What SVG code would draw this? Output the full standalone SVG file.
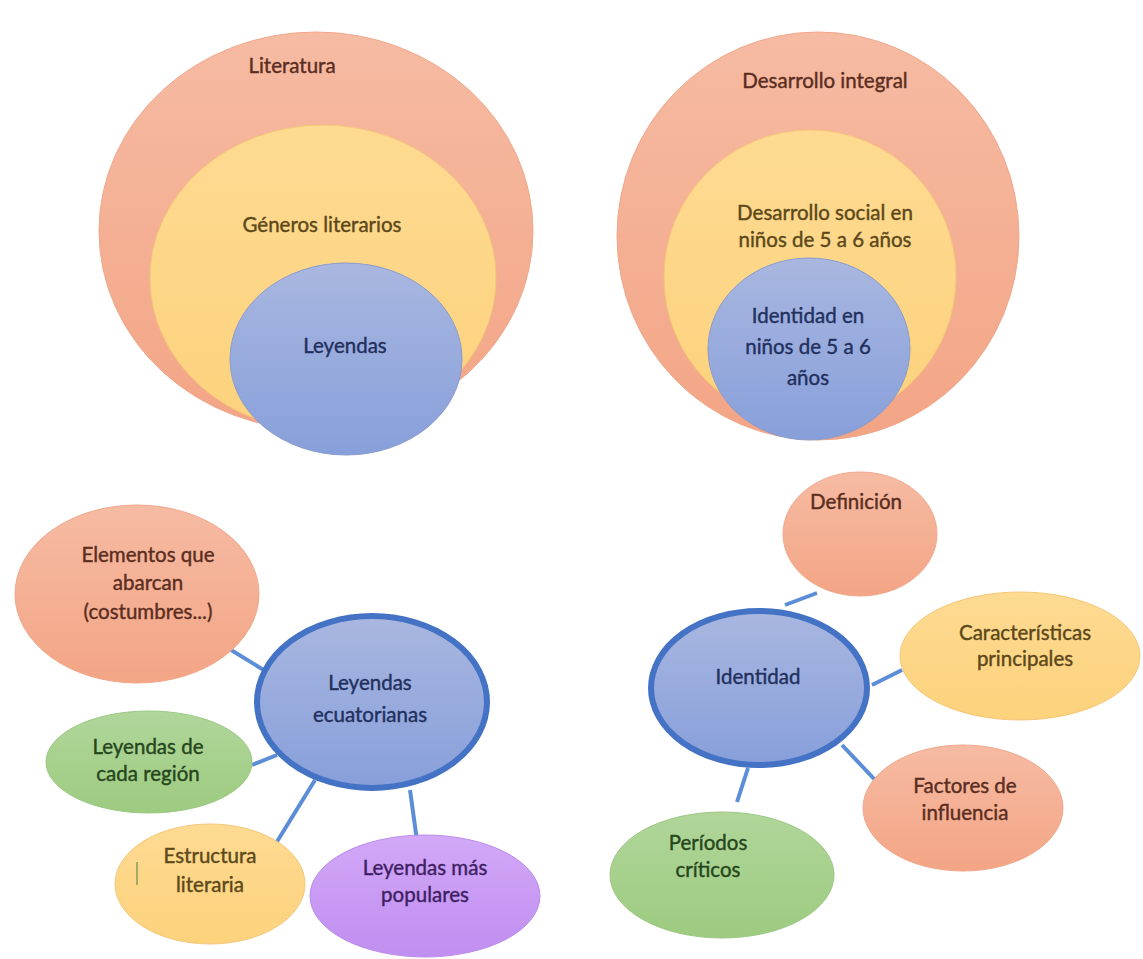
<svg xmlns="http://www.w3.org/2000/svg" width="1143" height="959" viewBox="0 0 1143 959">
<defs>
<linearGradient id="gSal" x1="0" y1="0" x2="0" y2="1"><stop offset="0" stop-color="#F6BBA3"/><stop offset="1" stop-color="#F3A585"/></linearGradient>
<linearGradient id="gYel" x1="0" y1="0" x2="0" y2="1"><stop offset="0" stop-color="#FEDA92"/><stop offset="1" stop-color="#FCD27C"/></linearGradient>
<linearGradient id="gBlu" x1="0" y1="0" x2="0" y2="1"><stop offset="0" stop-color="#A9B7E0"/><stop offset="1" stop-color="#879FDA"/></linearGradient>
<linearGradient id="gGrn" x1="0" y1="0" x2="0" y2="1"><stop offset="0" stop-color="#B0D69A"/><stop offset="1" stop-color="#9DCB80"/></linearGradient>
<linearGradient id="gPur" x1="0" y1="0" x2="0" y2="1"><stop offset="0" stop-color="#D2A8F8"/><stop offset="1" stop-color="#C08EF0"/></linearGradient>
</defs>
<style>
text{font-family:Lato,"Open Sans","Liberation Sans",sans-serif;font-size:20.5px;text-anchor:middle;dominant-baseline:middle;stroke-width:0.4}
.sal{fill:url(#gSal);stroke:#F0A88C;stroke-width:1}
.yel{fill:url(#gYel);stroke:#F5C77A;stroke-width:1}
.blu{fill:url(#gBlu);stroke:#8B9CCB;stroke-width:1}
.grn{fill:url(#gGrn);stroke:#9CC884;stroke-width:1}
.pur{fill:url(#gPur);stroke:#BB8CEA;stroke-width:1}
.hub{fill:url(#gBlu);stroke:#4472C4;stroke-width:6}
.tS{fill:#5A2D20;stroke:#5A2D20}
.tY{fill:#5C4819;stroke:#5C4819}
.tB{fill:#22305E;stroke:#22305E}
.tG{fill:#26461C;stroke:#26461C}
.tP{fill:#3E1F63;stroke:#3E1F63}
.con{stroke:#5B8ED6;stroke-width:4;fill:none}
</style>
<rect width="1143" height="959" fill="#FFFFFF"/>

<g id="literatura"><ellipse class="sal" cx="316" cy="231" rx="217" ry="199"/><text class="tS" x="292" y="68">Literatura</text></g>
<g id="generos"><ellipse class="yel" cx="323" cy="278" rx="173" ry="153"/><text class="tY" x="322" y="227">Géneros literarios</text></g>
<g id="leyendas"><ellipse class="blu" cx="346" cy="359" rx="116" ry="96"/><text class="tB" x="345" y="348">Leyendas</text></g>

<g id="desarrollo-integral"><ellipse class="sal" cx="818" cy="236" rx="201" ry="204"/><text class="tS" x="825" y="83">Desarrollo integral</text></g>
<g id="desarrollo-social"><ellipse class="yel" cx="810" cy="277" rx="146" ry="147"/><text class="tY" x="825" y="215">Desarrollo social en</text><text class="tY" x="825" y="242">niños de 5 a 6 años</text></g>
<g id="identidad-ninos"><ellipse class="blu" cx="809" cy="349" rx="101" ry="91"/><text class="tB" x="808" y="318">Identidad en</text><text class="tB" x="808" y="349">niños de 5 a 6</text><text class="tB" x="808" y="380">años</text></g>

<g id="connectors">
<line class="con" x1="218" y1="642" x2="267" y2="672"/>
<line class="con" x1="252" y1="765" x2="277" y2="755"/>
<line class="con" x1="315" y1="780" x2="270" y2="853"/>
<line class="con" x1="410" y1="790" x2="418" y2="848"/>
<line class="con" x1="785" y1="605" x2="817" y2="593"/>
<line class="con" x1="872" y1="685" x2="902" y2="670"/>
<line class="con" x1="842" y1="745" x2="877" y2="782"/>
<line class="con" x1="748" y1="768" x2="737" y2="802"/>
</g>

<g id="elementos"><ellipse class="sal" cx="137" cy="594" rx="122" ry="89"/><text class="tS" x="148" y="557">Elementos que</text><text class="tS" x="148" y="585">abarcan</text><text class="tS" x="148" y="614">(costumbres...)</text></g>
<g id="leyendas-ecuatorianas"><ellipse class="hub" cx="372" cy="702" rx="115" ry="86"/><text class="tB" x="370" y="685">Leyendas</text><text class="tB" x="370" y="717">ecuatorianas</text></g>
<g id="leyendas-region"><ellipse class="grn" cx="149" cy="762" rx="103" ry="51"/><text class="tG" x="148" y="749">Leyendas de</text><text class="tG" x="148" y="776">cada región</text></g>
<g id="estructura"><ellipse class="yel" cx="210" cy="884" rx="95" ry="60"/><text class="tY" x="210" y="858">Estructura</text><text class="tY" x="210" y="887">literaria</text><line x1="137" y1="862" x2="137" y2="885" stroke="#8A9A5A" stroke-width="1.5"/></g>
<g id="leyendas-populares"><ellipse class="pur" cx="425" cy="896" rx="115" ry="61"/><text class="tP" x="425" y="870">Leyendas más</text><text class="tP" x="425" y="897">populares</text></g>

<g id="definicion"><ellipse class="sal" cx="860" cy="534" rx="77" ry="62"/><text class="tS" x="856" y="504">Definición</text></g>
<g id="identidad"><ellipse class="hub" cx="759" cy="688" rx="108" ry="77"/><text class="tB" x="758" y="679">Identidad</text></g>
<g id="caracteristicas"><ellipse class="yel" cx="1020" cy="656" rx="120" ry="64"/><text class="tY" x="1025" y="635">Características</text><text class="tY" x="1025" y="661">principales</text></g>
<g id="factores"><ellipse class="sal" cx="963" cy="808" rx="100" ry="63"/><text class="tS" x="965" y="788">Factores de</text><text class="tS" x="965" y="815">influencia</text></g>
<g id="periodos"><ellipse class="grn" cx="722" cy="875" rx="112" ry="63"/><text class="tG" x="708" y="845">Períodos</text><text class="tG" x="708" y="872">críticos</text></g>
</svg>
